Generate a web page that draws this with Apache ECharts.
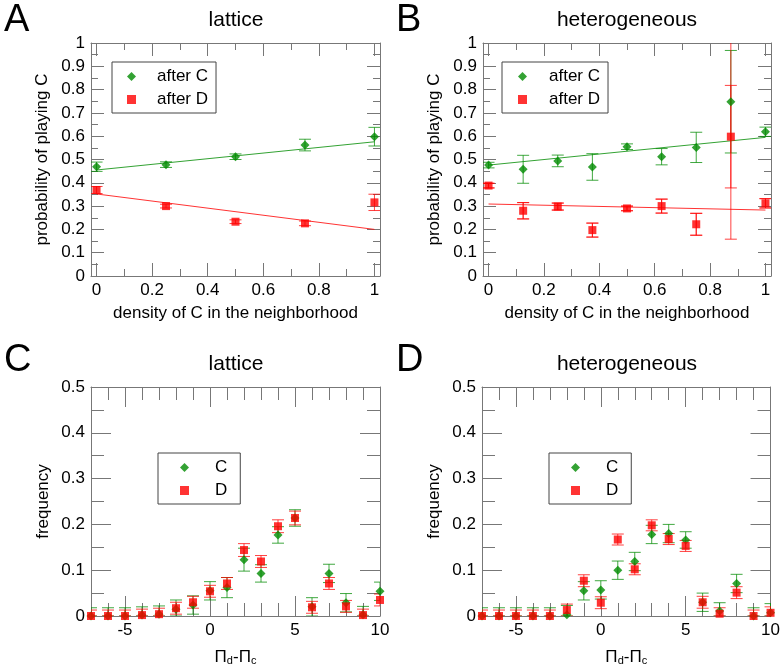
<!DOCTYPE html>
<html><head><meta charset="utf-8">
<script src="https://cdn.jsdelivr.net/npm/echarts@6/dist/echarts.min.js"></script>
<style>html,body{margin:0;padding:0;background:#fff}#c{width:783px;height:667px}</style>
</head><body><div id="c"></div>
<script>
const FONT = '"Liberation Sans", Arial, sans-serif';
const GREEN = '#008b00';
const RED = '#ff0000';

// ---- Panel A (lattice) ----
const xA = [0, 0.25, 0.5, 0.75, 1];
const aAfterC = [0.469, 0.478, 0.512, 0.562, 0.598];
const aAfterCErr = [0.02, 0.012, 0.012, 0.025, 0.04];
const aAfterD = [0.369, 0.300, 0.233, 0.226, 0.316];
const aAfterDErr = [0.015, 0.008, 0.008, 0.01, 0.035];
const fitX = [0, 1];
const aFitC = [0.455, 0.576];
const aFitD = [0.352, 0.200];

// ---- Panel B (heterogeneous) ----
const xB = [0, 0.125, 0.25, 0.375, 0.5, 0.625, 0.75, 0.875, 1];
const bAfterC = [0.476, 0.458, 0.494, 0.468, 0.555, 0.512, 0.552, 0.748, 0.619];
const bAfterCErr = [0.012, 0.06, 0.025, 0.057, 0.012, 0.035, 0.065, 0.22, 0.02];
const bAfterD = [0.388, 0.280, 0.298, 0.197, 0.290, 0.300, 0.222, 0.598, 0.312];
const bAfterDErr = [0.01, 0.035, 0.015, 0.03, 0.01, 0.03, 0.047, 0.44, 0.02];
const bAfterDErrInner = [0.01, 0.035, 0.015, 0.03, 0.01, 0.03, 0.047, 0.22, 0.02];
const bFitC = [0.476, 0.595];
const bFitD = [0.309, 0.283];

// ---- Panels C, D (frequency vs payoff difference) ----
const xPay = [-7, -6, -5, -4, -3, -2, -1, 0, 1, 2, 3, 4, 5, 6, 7, 8, 9, 10];
const cC = [0, 0, 0, 0.002, 0.004, 0.015, 0.024, 0.055, 0.062, 0.123, 0.093, 0.177, 0.214, 0.02, 0.093, 0.029, 0.003, 0.054];
const cCErr = [0.018, 0.018, 0.018, 0.018, 0.018, 0.02, 0.02, 0.02, 0.022, 0.025, 0.019, 0.018, 0.018, 0.02, 0.02, 0.02, 0.018, 0.02];
const cD = [0, 0, 0, 0.002, 0.004, 0.017, 0.030, 0.054, 0.071, 0.144, 0.119, 0.196, 0.214, 0.019, 0.071, 0.021, 0.002, 0.035];
const cDErr = [0.013, 0.013, 0.013, 0.013, 0.013, 0.013, 0.013, 0.013, 0.013, 0.014, 0.013, 0.014, 0.015, 0.013, 0.013, 0.013, 0.013, 0.013];
const dC = [0, 0, 0, 0, 0, 0.003, 0.055, 0.057, 0.100, 0.119, 0.178, 0.180, 0.166, 0.030, 0.011, 0.071, 0, 0.007];
const dCErr = [0.018, 0.018, 0.018, 0.018, 0.018, 0.02, 0.02, 0.02, 0.02, 0.02, 0.02, 0.02, 0.018, 0.02, 0.018, 0.02, 0.018, 0.02];
const dD = [0, 0, 0, 0, 0, 0.013, 0.077, 0.029, 0.167, 0.102, 0.198, 0.168, 0.153, 0.030, 0.005, 0.051, 0, 0.007];
const dDErr = [0.013, 0.013, 0.013, 0.013, 0.013, 0.013, 0.013, 0.013, 0.012, 0.012, 0.012, 0.012, 0.012, 0.013, 0.013, 0.013, 0.013, 0.013];

// tick label lists
const probXTicks = [0, 0.2, 0.4, 0.6, 0.8, 1];
const probXMinor = [0.1, 0.3, 0.5, 0.7, 0.9];
const probYTicks = [0, 0.1, 0.2, 0.3, 0.4, 0.5, 0.6, 0.7, 0.8, 0.9, 1];
const probYMinor = [0.05, 0.15, 0.25, 0.35, 0.45, 0.55, 0.65, 0.75, 0.85, 0.95];
const payXTicks = [-5, 0, 5, 10];
const payXMinor = [-7, -6, -4, -3, -2, -1, 1, 2, 3, 4, 6, 7, 8, 9];
const freqYTicks = [0, 0.1, 0.2, 0.3, 0.4, 0.5];
const freqYMinor = [0.05, 0.15, 0.25, 0.35, 0.45];

const grids = [
  {left: 91, top: 43, width: 289, height: 233},
  {left: 483, top: 43, width: 288, height: 233},
  {left: 91, top: 387, width: 289, height: 232},
  {left: 482, top: 387, width: 289, height: 232}
];

const fmt = v => String(Math.round(v * 100) / 100);
const AXC = '#777';

function mkAxis(gi, pos, min, max, vals, len, line, labelVals, fs, extra) {
  return Object.assign({
    type: 'value', gridIndex: gi, position: pos, min: min, max: max,
    axisLine: {show: line, onZero: false, lineStyle: {color: AXC, width: 1}},
    axisTick: {show: true, inside: true, length: len, customValues: vals, lineStyle: {color: AXC, width: 1}},
    axisLabel: labelVals ? {show: true, customValues: labelVals, formatter: fmt, fontFamily: FONT, fontSize: fs, color: '#000', margin: 6} : {show: false},
    splitLine: {show: false}, minorTick: {show: false}
  }, extra || {});
}

const xAxes = [], yAxes = [];
function addAxes(gi, xmin, xmax, xMaj, xMin, ymin, ymax, yMaj, yMin, majLen, minLen, fs, xExtra, yExtra) {
  xAxes.push(mkAxis(gi, 'bottom', xmin, xmax, xMaj, majLen, true, xMaj, fs, xExtra));
  xAxes.push(mkAxis(gi, 'bottom', xmin, xmax, xMin, minLen, false, null, fs));
  xAxes.push(mkAxis(gi, 'top', xmin, xmax, xMaj, majLen, true, null, fs));
  xAxes.push(mkAxis(gi, 'top', xmin, xmax, xMin, minLen, false, null, fs));
  yAxes.push(mkAxis(gi, 'left', ymin, ymax, yMaj, majLen, true, yMaj, fs, yExtra));
  yAxes.push(mkAxis(gi, 'left', ymin, ymax, yMin, minLen, false, null, fs));
  yAxes.push(mkAxis(gi, 'right', ymin, ymax, yMaj, majLen, true, null, fs));
  yAxes.push(mkAxis(gi, 'right', ymin, ymax, yMin, minLen, false, null, fs));
}

const nameStyle = {fontFamily: FONT, fontSize: 17, color: '#000'};
const payName = {
  name: '{a|Π}{b|d}{a|-Π}{b|c}', nameLocation: 'middle', nameGap: 28,
  nameTextStyle: {rich: {
    a: {fontFamily: FONT, fontSize: 17, color: '#000', lineHeight: 22, verticalAlign: 'bottom'},
    b: {fontFamily: FONT, fontSize: 11, color: '#000', lineHeight: 16, verticalAlign: 'bottom'}
  }}
};
addAxes(0, -0.02, 1.02, probXTicks, probXMinor, 0, 1, probYTicks, probYMinor, 13, 7, 17,
  {name: 'density of C in the neighborhood', nameLocation: 'middle', nameGap: 29, nameTextStyle: nameStyle},
  {name: 'probability of playing C', nameLocation: 'middle', nameGap: 40, nameTextStyle: nameStyle});
addAxes(1, -0.02, 1.02, probXTicks, probXMinor, 0, 1, probYTicks, probYMinor, 13, 7, 17,
  {name: 'density of C in the neighborhood', nameLocation: 'middle', nameGap: 29, nameTextStyle: nameStyle},
  {name: 'probability of playing C', nameLocation: 'middle', nameGap: 40, nameTextStyle: nameStyle});
addAxes(2, -7, 10, payXTicks, payXMinor, 0, 0.5, freqYTicks, freqYMinor, 20, 13, 17,
  payName, {name: 'frequency', nameLocation: 'middle', nameGap: 39, nameTextStyle: nameStyle});
addAxes(3, -7, 10, payXTicks, payXMinor, 0, 0.5, freqYTicks, freqYMinor, 20, 13, 17,
  payName, {name: 'frequency', nameLocation: 'middle', nameGap: 39, nameTextStyle: nameStyle});

function errSeries(xs, ys, es, color, gi, capW) {
  return {
    type: 'custom', xAxisIndex: gi * 4, yAxisIndex: gi * 4, silent: true, z: 2, clip: true,
    data: xs.map((x, i) => [x, Math.max(ys[i] - es[i], 0), ys[i] + es[i]]),
    renderItem: function (params, api) {
      const x = api.value(0), lo = api.value(1), hi = api.value(2);
      const p1 = api.coord([x, lo]), p2 = api.coord([x, hi]);
      const w = capW / 2;
      const style = {stroke: color, lineWidth: 1, fill: null, opacity: 0.75};
      return {type: 'group', children: [
        {type: 'line', shape: {x1: p1[0], y1: p1[1], x2: p2[0], y2: p2[1]}, style: style},
        {type: 'line', shape: {x1: p1[0] - w, y1: p1[1], x2: p1[0] + w, y2: p1[1]}, style: style},
        {type: 'line', shape: {x1: p2[0] - w, y1: p2[1], x2: p2[0] + w, y2: p2[1]}, style: style}
      ]};
    }
  };
}
function pts(name, xs, ys, color, gi, symbol, size) {
  return {
    type: 'scatter', name: name, xAxisIndex: gi * 4, yAxisIndex: gi * 4, z: 4,
    symbol: symbol, symbolSize: size, itemStyle: {color: color},
    data: xs.map((x, i) => [x, ys[i]])
  };
}
function fit(xs, ys, color, gi) {
  return {
    type: 'line', xAxisIndex: gi * 4, yAxisIndex: gi * 4, z: 1, symbol: 'none', silent: true,
    lineStyle: {color: color, width: 1, opacity: 0.8},
    data: xs.map((x, i) => [x, ys[i]])
  };
}

const series = [
  fit(fitX, aFitC, GREEN, 0), fit(fitX, aFitD, RED, 0),
  errSeries(xA, aAfterC, aAfterCErr, GREEN, 0, 12), errSeries(xA, aAfterD, aAfterDErr, RED, 0, 12),
  pts('after C', xA, aAfterC, GREEN, 0, 'diamond', 9), pts('after D', xA, aAfterD, RED, 0, 'rect', 8),

  fit(fitX, bFitC, GREEN, 1), fit(fitX, bFitD, RED, 1),
  errSeries(xB, bAfterC, bAfterCErr, GREEN, 1, 12), errSeries(xB, bAfterD, bAfterDErr, RED, 1, 12),
  errSeries(xB, bAfterD, bAfterDErrInner, RED, 1, 12),
  pts('after C', xB, bAfterC, GREEN, 1, 'diamond', 9), pts('after D', xB, bAfterD, RED, 1, 'rect', 8),

  errSeries(xPay, cC, cCErr, GREEN, 2, 12), errSeries(xPay, cD, cDErr, RED, 2, 12),
  pts('C', xPay, cC, GREEN, 2, 'diamond', 9), pts('D', xPay, cD, RED, 2, 'rect', 8),

  errSeries(xPay, dC, dCErr, GREEN, 3, 12), errSeries(xPay, dD, dDErr, RED, 3, 12),
  pts('C', xPay, dC, GREEN, 3, 'diamond', 9), pts('D', xPay, dD, RED, 3, 'rect', 8)
];

function legend(names, icons, colors, left, top, textPad, padding) {
  return {
    orient: 'vertical', left: left, top: top, selectedMode: false,
    borderColor: '#444', borderWidth: 1, borderRadius: 0, padding: padding,
    itemWidth: 9, itemHeight: 9, itemGap: 6,
    textStyle: {fontFamily: FONT, fontSize: 17, color: '#000', padding: [0, 0, 0, textPad]},
    data: names.map((n, i) => ({name: n, icon: icons[i], itemStyle: {color: colors[i]}}))
  };
}

const texts = [
  ['A', 4, 2, 38, 'left'], ['B', 396, 2, 38, 'left'], ['C', 4, 342, 38, 'left'], ['D', 396, 342, 38, 'left'],
  ['lattice', 236, 10, 21, 'center'], ['heterogeneous', 627, 10, 21, 'center'],
  ['lattice', 236, 354, 21, 'center'], ['heterogeneous', 627, 354, 21, 'center']
];

const chart = echarts.init(document.getElementById('c'), null, {renderer: 'canvas'});
chart.setOption({
  animation: false,
  backgroundColor: '#fff',
  grid: grids,
  xAxis: xAxes,
  yAxis: yAxes,
  legend: [
    legend(['after C', 'after D'], ['diamond', 'rect'], [GREEN, RED], 112, 62, 16, [6, 8, 5, 15]),
    legend(['after C', 'after D'], ['diamond', 'rect'], [GREEN, RED], 502, 62, 17, [6, 8, 5, 16]),
    legend(['C', 'D'], ['diamond', 'rect'], [GREEN, RED], 158, 453, 21, [6, 13, 5, 22]),
    legend(['C', 'D'], ['diamond', 'rect'], [GREEN, RED], 549, 453, 21, [6, 13, 5, 22])
  ],
  graphic: texts.map(t => ({
    type: 'text', x: t[1], y: t[2], silent: true,
    style: {text: t[0], fontFamily: FONT, fontSize: t[3], fill: '#000', align: t[4], verticalAlign: 'top'}
  })),
  series: series
});
</script>
</body></html>
